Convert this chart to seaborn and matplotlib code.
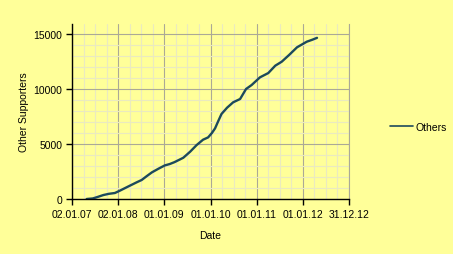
import matplotlib
matplotlib.use("Agg")
import matplotlib.pyplot as plt
import matplotlib.dates as mdates
import seaborn as sns
import pandas as pd
import numpy as np

dates = ["2007-04-28", "2007-06-15", "2007-07-14", "2007-09-07", "2007-10-20",
         "2007-12-07", "2008-01-16", "2008-03-15", "2008-05-27", "2008-07-06",
         "2008-08-15", "2008-09-25", "2008-11-15", "2009-01-04", "2009-02-13",
         "2009-03-22", "2009-05-05", "2009-05-31", "2009-07-24", "2009-09-13",
         "2009-11-03", "2009-12-13", "2010-01-12", "2010-02-06", "2010-03-04",
         "2010-03-29", "2010-05-12", "2010-06-29", "2010-08-23", "2010-10-09",
         "2010-11-22", "2011-01-27", "2011-04-03", "2011-05-28", "2011-07-18",
         "2011-09-15", "2011-11-16", "2012-02-01", "2012-03-16", "2012-04-22"]
others = [0, 50, 150, 360, 470,
          545, 760, 1100, 1515, 1730,
          2080, 2424, 2750, 3050, 3180,
          3350, 3600, 3750, 4300, 4900,
          5390, 5600, 6000, 6420, 7100,
          7730, 8300, 8790, 9090, 10000,
          10360, 11060, 11450, 12120, 12480,
          13100, 13790, 14300, 14480, 14650]
series_name = "Others"
x_tick_labels = ["02.01.07", "02.01.08", "01.01.09", "01.01.10", "01.01.11", "01.01.12", "31.12.12"]
y_ticks = [0, 5000, 10000, 15000]

df = pd.DataFrame({"Date": pd.to_datetime(dates), "Value": others, "Series": series_name})

sns.set_style("white")
plt.rcParams["font.family"] = ["Liberation Sans", "DejaVu Sans"]
plt.rcParams["text.color"] = "black"
plt.rcParams["axes.labelcolor"] = "black"
plt.rcParams["xtick.color"] = "black"
plt.rcParams["ytick.color"] = "black"

bg = "#FFFF99"
fig = plt.figure(figsize=(4.53, 2.55), dpi=100, facecolor=bg)
ax = fig.add_axes([72/453, 1 - 200/255, (349 - 72)/453, 175/255])
ax.set_facecolor(bg)

sns.lineplot(data=df, x="Date", y="Value", hue="Series", palette=["#1C4A5C"],
             linewidth=1.7, ax=ax, legend=True)

start = pd.Timestamp("2007-01-02")
major = [start + pd.Timedelta(days=365 * i) for i in range(7)]
minor = [start + pd.Timedelta(days=365 * i / 4) for i in range(25)]
ax.set_xlim(mdates.date2num(major[0]), mdates.date2num(major[-1]))
ax.set_xticks([mdates.date2num(d) for d in major])
ax.set_xticklabels(x_tick_labels)
ax.set_xticks([mdates.date2num(d) for d in minor], minor=True)
ax.set_ylim(0, 15909)
ax.set_yticks(y_ticks)
ax.set_yticks(np.arange(0, 16000, 1000), minor=True)

ax.grid(which="minor", color="#EAEAC0", linewidth=0.8)
ax.grid(which="major", color="#ABA996", linewidth=0.8)
ax.set_axisbelow(True)

ax.spines["top"].set_visible(False)
ax.spines["right"].set_color("#ABA996")
ax.spines["right"].set_linewidth(0.8)
ax.spines["left"].set_color("black")
ax.spines["bottom"].set_color("black")
ax.spines["left"].set_linewidth(1.0)
ax.spines["bottom"].set_linewidth(1.0)

ax.tick_params(axis="both", which="major", direction="out", length=4, width=1,
               color="black", labelsize=7.5, pad=3, left=True, bottom=True,
               labelcolor="black")
ax.tick_params(axis="both", which="minor", length=0)

ax.set_xlabel("Date", fontsize=7.5, labelpad=8, color="black")
ax.set_ylabel("Other Supporters", fontsize=7.5, labelpad=3, color="black")

leg = ax.legend(loc="center left", bbox_to_anchor=(381/453, 1 - 128/255),
                bbox_transform=fig.transFigure, frameon=False, fontsize=7.5,
                handlelength=2.2, handletextpad=0.2)
for t in leg.get_texts():
    t.set_color("black")
for h in leg.get_lines():
    h.set_linewidth(1.2)

fig.savefig("out.png", dpi=100, facecolor=bg)
